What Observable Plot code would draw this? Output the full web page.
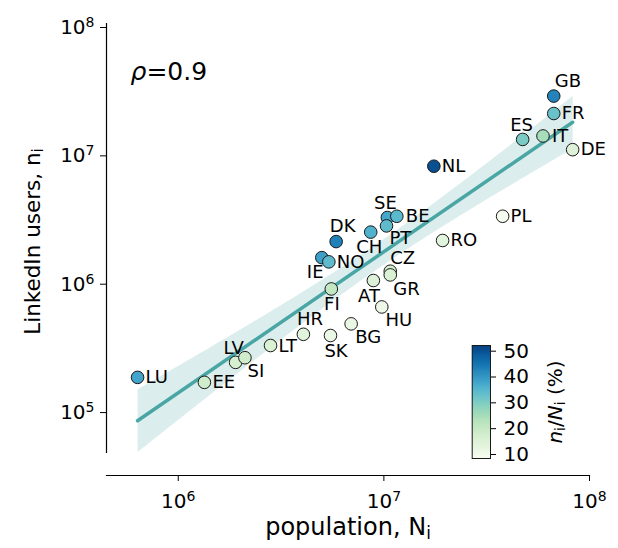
<!DOCTYPE html>
<html>
<head>
<meta charset="utf-8">
<script src="https://cdn.jsdelivr.net/npm/d3@7"></script>
<script src="https://cdn.jsdelivr.net/npm/@observablehq/plot@0.6"></script>
<style>
  html, body { margin: 0; padding: 0; background: #fff; }
  #wrap { position: relative; width: 618px; height: 548px; font-family: "DejaVu Sans", sans-serif; }
  #cbar { position: absolute; left: 460px; top: 335px; }
  svg text { font-family: "DejaVu Sans", sans-serif; }
</style>
</head>
<body>
<div id="wrap"><div id="main"></div><div id="cbar"></div></div>
<script>
// ---------------- data ----------------
const codes = ["GB","FR","ES","IT","DE","NL","SE","BE","PT","CH","DK","PL","RO","IE","NO","CZ","GR","AT","FI","HU","BG","HR","SK","LT","LV","SI","LU","EE"];
// population N_i
const population = [67.0e6, 67.0e6, 47.3e6, 59.4e6, 82.8e6, 17.5e6, 10.4e6, 11.56e6, 10.3e6, 8.63e6, 5.86e6, 37.8e6, 19.3e6, 4.99e6, 5.40e6, 10.74e6, 10.74e6, 8.89e6, 5.55e6, 9.77e6, 6.93e6, 4.06e6, 5.50e6, 2.81e6, 1.90e6, 2.11e6, 0.634e6, 1.34e6];
// LinkedIn users n_i
const users = [27.2e6, 19.9e6, 12.5e6, 13.3e6, 10.4e6, 7.73e6, 3.08e6, 3.15e6, 2.65e6, 2.37e6, 2.0e6, 3.15e6, 2.04e6, 1.50e6, 1.39e6, 1.175e6, 1.10e6, 0.995e6, 0.855e6, 0.619e6, 0.457e6, 0.379e6, 0.371e6, 0.310e6, 0.229e6, 0.249e6, 0.175e6, 0.160e6];
// n_i / N_i (%) as shown by the colour of each point
const share = [42.6, 32.5, 30.3, 24.8, 15.0, 50.0, 37.3, 34.3, 33.8, 35.6, 43.0, 9.0, 13.7, 38.6, 33.8, 17.2, 15.5, 15.0, 20.7, 10.6, 11.5, 13.7, 11.0, 15.5, 16.8, 18.0, 37.8, 18.0];
const rhoText = "*ρ*=0.9";
const xTicks = [6, 7, 8];
const yTicks = [5, 6, 7, 8];
const cTicks = [10, 20, 30, 40, 50];
const xLabel = "population, N_i";
const yLabel = "LinkedIn users, n_i";
const cLabel = "*n*_i/*N*_i (%)";

// ---------------- layout (label placement, not data) ----------------
const labelPlace = {
  GB:["start",1,-15], FR:["start",8,0], ES:["middle",-1,-14], IT:["start",9,0], DE:["start",8,0],
  NL:["start",8,0], SE:["middle",-2,-14], BE:["start",9,0], PT:["start",3,12], CH:["middle",-1.5,15],
  DK:["middle",6.5,-15], PL:["start",8,0], RO:["start",8,0], IE:["middle",-6.6,15], NO:["start",8,0],
  CZ:["start",0,-13], GR:["start",3,14], AT:["middle",-4.3,15.5], FI:["middle",0.6,15.5], HU:["middle",17,13.3],
  BG:["middle",17,13], HR:["middle",6.6,-15.2], SK:["middle",5.5,16], LT:["start",8,1], LV:["middle",-2,-14.5],
  SI:["middle",11,13.3], LU:["start",8,0], EE:["start",8,0]
};

const data = codes.map((c, i) => ({
  code: c, N: population[i], n: users[i], share: share[i],
  lx: Math.log10(population[i]), ly: Math.log10(users[i])
}));

const xDomain = [5.651, 8];
const yDomain = [4.65, 8];
const cDomain = [8.45, 52.2];
const teal = "#4aa6a4";
const colorOpts = {type: "linear", scheme: "GnBu", domain: cDomain};

const main = Plot.plot({
  width: 618, height: 548,
  marginLeft: 106, marginRight: 29, marginTop: 23, marginBottom: 73,
  style: {fontFamily: "DejaVu Sans", fontSize: "20px", color: "#000", background: "transparent", overflow: "visible"},
  x: {domain: xDomain},
  y: {domain: yDomain, range: [453, 23]},
  color: colorOpts,
  marks: [
    Plot.linearRegressionY(data, {x: "lx", y: "ly", stroke: teal, strokeWidth: 3.5, fillOpacity: 0.2, ci: 0.95}),
    Plot.dot(data, {x: "lx", y: "ly", r: 6.3, fill: "share", stroke: "#1a1a1a", strokeWidth: 1}),
    ...data.map(d => Plot.text([d], {
      x: "lx", y: "ly", text: "code", fontSize: 18, fill: "#000",
      textAnchor: labelPlace[d.code][0], dx: labelPlace[d.code][1], dy: labelPlace[d.code][2]
    })),
    Plot.axisX(xTicks, {tickSize: 6, tickPadding: 12, tickFormat: d => "10^" + d, label: null, fontSize: 20}),
    Plot.axisY(yTicks, {tickSize: 6, tickPadding: 6, dy: 4, tickFormat: d => "10^" + d, label: null, fontSize: 20}),
    Plot.ruleX([xDomain[0]], {y1: yDomain[0], y2: yDomain[1], stroke: "#000", strokeWidth: 1.2}),
    Plot.frame({anchor: "bottom", stroke: "#000", strokeWidth: 1.2}),
    Plot.text([rhoText], {frameAnchor: "top-left", text: d => d, textAnchor: "start", dx: 24, dy: 39, fontSize: 25}),
    Plot.text([xLabel], {frameAnchor: "bottom", text: d => d, textAnchor: "middle", dy: 59, fontSize: 24}),
    Plot.text([yLabel], {frameAnchor: "left", text: d => d, textAnchor: "middle", rotate: -90, dx: -73, dy: -8, fontSize: 21.5})
  ]
});
document.getElementById("main").appendChild(main);

// ---------------- colour bar ----------------
const nSlices = 120;
const step = (cDomain[1] - cDomain[0]) / nSlices;
const slices = d3.range(nSlices).map(i => ({v0: cDomain[0] + i * step, v1: cDomain[0] + (i + 1) * step, v: cDomain[0] + (i + 0.5) * step}));
const cbar = Plot.plot({
  width: 120, height: 135,
  marginLeft: 11.7, marginRight: 90, marginTop: 10, marginBottom: 12,
  style: {fontFamily: "DejaVu Sans", fontSize: "20px", color: "#000", background: "transparent", overflow: "visible"},
  x: {domain: [0, 1], axis: null},
  y: {domain: cDomain},
  color: colorOpts,
  marks: [
    Plot.rect(slices, {x1: 0, x2: 1, y1: "v0", y2: d => d.v1 + step * 0.3, fill: "v", shapeRendering: "crispEdges"}),
    Plot.frame({stroke: "#1a1a1a", strokeWidth: 1}),
    Plot.axisY(cTicks, {anchor: "right", tickSize: 5, tickPadding: 8, label: null, fontSize: 20}),
    Plot.text([cLabel], {frameAnchor: "right", text: d => d, textAnchor: "middle", rotate: -90, dx: 65, fontSize: 20})
  ]
});
document.getElementById("cbar").appendChild(cbar);

// ---------------- rich text: superscripts, subscripts, italics ----------------
function mk(str, italic, shift) {
  const sp = document.createElementNS("http://www.w3.org/2000/svg", "tspan");
  sp.textContent = str;
  if (italic) sp.setAttribute("font-style", "italic");
  if (shift) {
    sp.setAttribute("font-size", "70%");
    sp.setAttribute("baseline-shift", shift > 0 ? "52%" : "-22%");
  }
  return sp;
}
function rich(t) {
  const s = t.textContent;
  if (!/[\^_*]/.test(s)) return;
  t.textContent = "";
  let italic = false, buf = "";
  const flush = () => { if (buf) { t.appendChild(mk(buf, italic, 0)); buf = ""; } };
  for (let i = 0; i < s.length; i++) {
    const c = s[i];
    if (c === "*") { flush(); italic = !italic; continue; }
    if (c === "^" || c === "_") { flush(); t.appendChild(mk(s[i + 1], italic, c === "^" ? 1 : -1)); i++; continue; }
    buf += c;
  }
  flush();
}
[main, cbar].forEach(svg => svg.querySelectorAll("text").forEach(rich));
</script>
</body>
</html>
